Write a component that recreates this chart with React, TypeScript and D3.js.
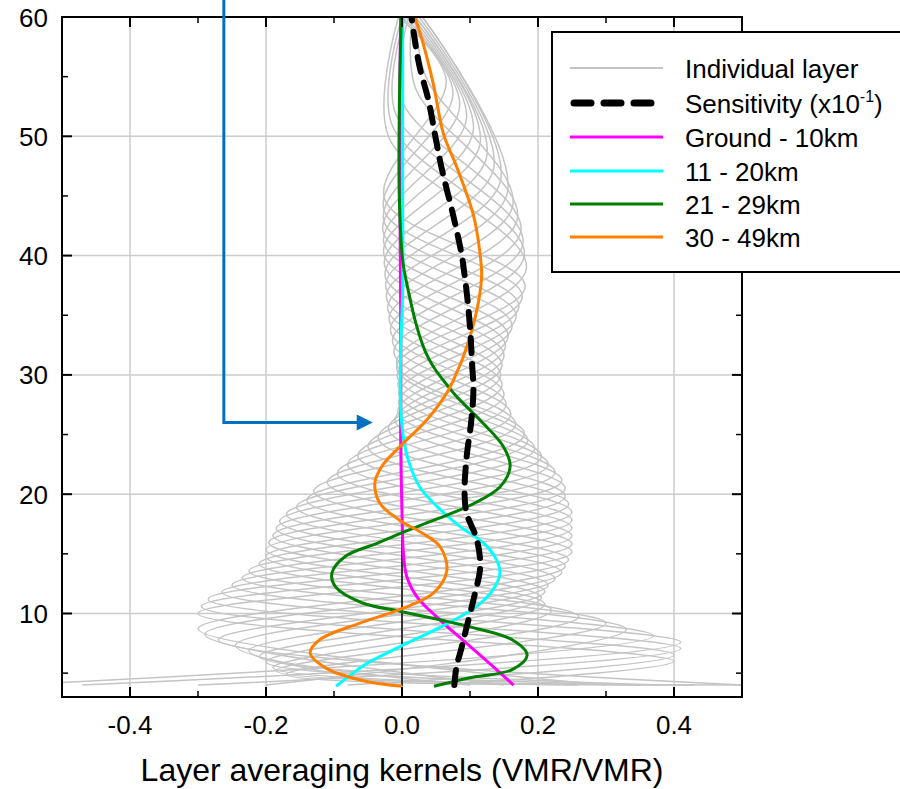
import React from 'react';
import * as d3 from 'd3';

// ---------- data (altitude km, kernel value) ----------
const X_TICKS = [-0.4, -0.2, 0.0, 0.2, 0.4];
const X_TICK_LABELS = ['-0.4', '-0.2', '0.0', '0.2', '0.4'];
const X_MINOR = [-0.5, -0.3, -0.1, 0.1, 0.3, 0.5];
const Y_TICKS = [10, 20, 30, 40, 50, 60];
const Y_MINOR = [5, 15, 25, 35, 45, 55];
const GRID_X = [-0.4, -0.2, 0.0, 0.2, 0.4];
const GRID_Y = [10, 20, 30, 40, 50];

const GREY_LAYERS: [number, number][][] = [
  [[4, 0.05], [6.0, 0.40], [10.0, -0.30], [14.5, 0.245], [19.5, -0.14], [25.0, 0.18], [31.0, -0.008], [39.0, 0.183], [50, -0.02], [60, -0.005]],
  [[4, -0.08], [6.53, 0.40], [10.59, -0.295], [15.16, 0.25], [20.24, -0.13], [25.83, 0.167], [31.92, -0.012], [40.05, 0.18], [51, -0.015], [60, 0.0]],
  [[4, -0.30], [7.06, 0.41], [11.19, -0.285], [15.83, 0.25], [20.98, -0.11], [26.66, 0.16], [32.84, -0.014], [41.09, 0.178], [52, -0.01], [60, 0.005]],
  [[4, -0.47], [7.59, 0.41], [11.78, -0.265], [16.49, 0.25], [21.73, -0.095], [27.48, 0.153], [33.77, -0.017], [42.14, 0.175], [53, 0.0], [60, 0.01]],
  [[4, -0.58], [8.13, 0.37], [12.38, -0.25], [17.16, 0.25], [22.47, -0.08], [28.31, 0.15], [34.69, -0.019], [43.19, 0.17], [54, 0.02], [60, 0.015]],
  [[4, -0.2], [8.66, 0.33], [12.97, -0.235], [17.82, 0.25], [23.21, -0.065], [29.14, 0.147], [35.61, -0.021], [44.23, 0.163], [55, 0.035], [60, 0.02]],
  [[4, 0.43], [4.9, -0.17], [9.19, 0.30], [13.56, -0.225], [18.48, 0.25], [23.95, -0.05], [29.97, 0.145], [36.53, -0.023], [45.28, 0.155], [60, 0.03]],
  [[4, 0.55], [5.2, -0.185], [9.72, 0.26], [14.16, -0.21], [19.15, 0.245], [24.70, -0.035], [30.80, 0.147], [37.45, -0.024], [46.33, 0.145], [60, 0.03]],
  [[4, 0.26], [5.47, -0.19], [10.25, 0.22], [14.75, -0.20], [19.81, 0.24], [25.44, -0.02], [31.63, 0.15], [38.38, -0.025], [47.38, 0.135], [60, 0.025]],
  [[4, 0.35], [5.94, -0.20], [10.78, 0.21], [15.34, -0.20], [20.48, 0.24], [26.18, -0.01], [32.45, 0.152], [39.30, -0.026], [48.42, 0.125], [60, 0.02]],
  [[4, 0.38], [6.40, -0.21], [11.31, 0.205], [15.94, -0.196], [21.14, 0.235], [26.92, -0.006], [33.28, 0.156], [40.22, -0.027], [49.47, 0.115], [60, 0.02]],
  [[4, 0.1], [6.87, -0.225], [11.84, 0.21], [16.53, -0.19], [21.80, 0.225], [27.66, -0.005], [34.11, 0.162], [41.14, -0.027], [50.52, 0.105], [60, 0.015]],
  [[4, 0.0], [7.33, -0.245], [12.38, 0.215], [17.13, -0.185], [22.47, 0.215], [28.41, -0.005], [34.94, 0.168], [42.06, -0.028], [51.56, 0.095], [60, 0.01]],
  [[4, 0.5], [7.80, -0.27], [12.91, 0.225], [17.72, -0.18], [23.13, 0.205], [29.15, -0.006], [35.77, 0.172], [42.98, -0.027], [52.61, 0.085], [60, 0.005]],
  [[4, 0.15], [8.26, -0.29], [13.44, 0.235], [18.31, -0.17], [23.80, 0.195], [29.89, -0.007], [36.59, 0.177], [43.91, -0.027], [53.66, 0.075], [60, 0.0]],
  [[4, 0.3], [8.73, -0.30], [13.97, 0.24], [18.91, -0.155], [24.46, 0.185], [30.63, -0.008], [37.42, 0.181], [44.83, -0.026], [54.70, 0.065], [60, -0.005]],
];

const SENSITIVITY: [number, number][] = [
  [4.0, 0.077], [5.5, 0.080], [7, 0.087], [8.85, 0.095], [11.6, 0.107], [13.9, 0.115], [16.2, 0.110],
  [18.4, 0.095], [20.1, 0.092], [23.1, 0.095], [26.2, 0.102], [28.7, 0.105], [31, 0.103], [34, 0.100],
  [37, 0.095], [38.8, 0.091], [40, 0.088], [43.2, 0.076], [47.4, 0.058], [50, 0.049], [53, 0.039],
  [55.8, 0.026], [58, 0.019], [60, 0.014],
];

const GROUND_10: [number, number][] = [
  [4.0, 0.164], [5.3, 0.139], [7.5, 0.095], [9.45, 0.056], [11.4, 0.022], [13.1, 0.007], [15.1, 0.002],
  [18.4, 0.0], [25, -0.002], [35, -0.002], [45, -0.003], [55, -0.003], [60, -0.002],
];

const L11_20: [number, number][] = [
  [3.9, -0.097], [5.0, -0.072], [5.8, -0.052], [7.3, 0.0], [8.9, 0.058], [10.6, 0.11], [12, 0.134],
  [13.4, 0.144], [14.5, 0.139], [15.9, 0.12], [17.3, 0.085], [19, 0.051], [20.6, 0.026], [22.9, 0.009],
  [24.8, 0.002], [27.3, -0.002], [32, -0.002], [37, 0.001], [45, 0.001], [52, 0.001], [60, 0.001],
];

const L21_29: [number, number][] = [
  [3.9, 0.047], [4.6, 0.098], [5.3, 0.162], [6.5, 0.184], [7.8, 0.162], [8.9, 0.098], [10.15, 0.0],
  [10.9, -0.059], [12.25, -0.098], [13.4, -0.103], [14.8, -0.083], [15.9, -0.036], [16.7, -0.003],
  [17.8, 0.046], [19.2, 0.105], [20.6, 0.144], [22.3, 0.159], [24.0, 0.149], [26.2, 0.115], [28.2, 0.080],
  [29.6, 0.060], [30.7, 0.046], [32, 0.034], [34, 0.022], [37.4, 0.008], [39.6, 0.001], [45, -0.004],
  [52, -0.004], [60, -0.001],
];

const L30_49: [number, number][] = [
  [3.9, 0.0], [4.3, -0.052], [5.4, -0.111], [6.7, -0.135], [7.8, -0.121], [9.2, -0.062], [10.4, 0.0],
  [11.7, 0.046], [13.6, 0.066], [15.6, 0.056], [16.7, 0.031], [17.8, -0.003], [19.2, -0.032], [20.9, -0.040],
  [22.3, -0.030], [24.0, -0.003], [26.2, 0.036], [28.7, 0.068], [30.4, 0.082], [31.5, 0.090], [34.9, 0.108],
  [38.2, 0.117], [40.5, 0.114], [43.4, 0.105], [47.5, 0.080], [50.2, 0.061], [54.4, 0.046], [57.8, 0.031], [60, 0.019],
];

const ZERO_LINE: [number, number][] = [[3.9, 0], [17, 0]];

const LEGEND_LABELS = ['Individual layer', 'Sensitivity (x10', 'Ground - 10km', '11 - 20km', '21 - 29km', '30 - 49km'];
const COLORS = {
  grey: '#c4c4c4',
  sens: '#000000',
  ground: '#ff00ff',
  l11: '#00ffff',
  l21: '#008000',
  l30: '#ff8000',
  arrow: '#0070c0',
};

const FONT = '"Liberation Sans", Arial, sans-serif';

export default function App() {
  const W = 900, H = 789;
  const left = 62, right = 742, top = 17, bottom = 697;
  const x = d3.scaleLinear().domain([-0.5, 0.5]).range([left, right]);
  const y = d3.scaleLinear().domain([3, 60]).range([bottom, top]);

  const line = d3
    .line<[number, number]>()
    .x((d) => x(d[1]))
    .y((d) => y(d[0]))
    .curve(d3.curveCatmullRom.alpha(0.5));
  const straight = d3
    .line<[number, number]>()
    .x((d) => x(d[1]))
    .y((d) => y(d[0]));

  const majorLen = 10, minorLen = 6;

  // annotation arrow (data coordinates)
  const arrowX = x(-0.262);
  const arrowTurnY = y(26.0);
  const arrowTipX = x(-0.043);

  const legendX = 552, legendY = 32;
  const rowYs = [68, 103, 137, 171, 204, 237];
  const sampleX0 = 570, sampleX1 = 663, textX = 685;

  return (
    <svg
      width={W}
      height={H}
      style={{ position: 'absolute', left: 0, top: 0, background: '#fff' }}
      fontFamily={FONT}
    >
      <rect x={0} y={0} width={W} height={H} fill="#fff" />
      <defs>
        <clipPath id="plotclip">
          <rect x={left} y={top} width={right - left} height={bottom - top} />
        </clipPath>
      </defs>

      {/* grid */}
      {GRID_X.map((v) => (
        <line key={'gx' + v} x1={x(v)} x2={x(v)} y1={top} y2={bottom} stroke="#cccccc" strokeWidth={1.5} />
      ))}
      {GRID_Y.map((v) => (
        <line key={'gy' + v} x1={left} x2={right} y1={y(v)} y2={y(v)} stroke="#cccccc" strokeWidth={1.5} />
      ))}

      <g clipPath="url(#plotclip)" fill="none">
        {GREY_LAYERS.map((d, i) => (
          <path key={'g' + i} d={line(d) || ''} stroke={COLORS.grey} strokeWidth={1.5} />
        ))}
        <path d={straight(ZERO_LINE) || ''} stroke="#000" strokeWidth={1.5} />
        <path d={line(GROUND_10) || ''} stroke={COLORS.ground} strokeWidth={3} />
        <path d={line(L11_20) || ''} stroke={COLORS.l11} strokeWidth={3} />
        <path d={line(L21_29) || ''} stroke={COLORS.l21} strokeWidth={3} />
        <path d={line(L30_49) || ''} stroke={COLORS.l30} strokeWidth={3} />
        <path
          d={line(SENSITIVITY) || ''}
          stroke={COLORS.sens}
          strokeWidth={6}
          strokeDasharray="15 11"
          strokeLinecap="round"
        />
      </g>

      {/* frame */}
      <rect x={left} y={top} width={right - left} height={bottom - top} fill="none" stroke="#000" strokeWidth={2} />

      {/* ticks */}
      {X_TICKS.map((v) => (
        <g key={'xt' + v}>
          <line x1={x(v)} x2={x(v)} y1={bottom} y2={bottom - majorLen} stroke="#000" strokeWidth={2} />
          <line x1={x(v)} x2={x(v)} y1={top} y2={top + majorLen} stroke="#000" strokeWidth={2} />
        </g>
      ))}
      {X_MINOR.map((v) => (
        <g key={'xm' + v}>
          <line x1={x(v)} x2={x(v)} y1={bottom} y2={bottom - minorLen} stroke="#000" strokeWidth={1.5} />
          <line x1={x(v)} x2={x(v)} y1={top} y2={top + minorLen} stroke="#000" strokeWidth={1.5} />
        </g>
      ))}
      {Y_TICKS.map((v) => (
        <g key={'yt' + v}>
          <line x1={left} x2={left + majorLen} y1={y(v)} y2={y(v)} stroke="#000" strokeWidth={2} />
          <line x1={right} x2={right - majorLen} y1={y(v)} y2={y(v)} stroke="#000" strokeWidth={2} />
        </g>
      ))}
      {Y_MINOR.map((v) => (
        <g key={'ym' + v}>
          <line x1={left} x2={left + minorLen} y1={y(v)} y2={y(v)} stroke="#000" strokeWidth={1.5} />
          <line x1={right} x2={right - minorLen} y1={y(v)} y2={y(v)} stroke="#000" strokeWidth={1.5} />
        </g>
      ))}

      {/* tick labels */}
      {X_TICKS.map((v, i) => (
        <text key={'xl' + v} x={x(v)} y={734} textAnchor="middle" fontSize={26} fill="#000">
          {X_TICK_LABELS[i]}
        </text>
      ))}
      {Y_TICKS.map((v) => (
        <text key={'yl' + v} x={48} y={y(v) + 9.5} textAnchor="end" fontSize={26} fill="#000">
          {String(v)}
        </text>
      ))}

      {/* axis title */}
      <text x={(left + right) / 2} y={781} textAnchor="middle" fontSize={32} fill="#000">
        Layer averaging kernels (VMR/VMR)
      </text>

      {/* arrow annotation */}
      <path
        d={`M${arrowX},0 V${arrowTurnY} H${arrowTipX - 12}`}
        fill="none"
        stroke={COLORS.arrow}
        strokeWidth={3}
      />
      <polygon
        points={`${arrowTipX - 16},${arrowTurnY - 8} ${arrowTipX},${arrowTurnY} ${arrowTipX - 16},${arrowTurnY + 8}`}
        fill={COLORS.arrow}
      />

      {/* legend */}
      <rect x={legendX} y={legendY} width={370} height={240} fill="#fff" stroke="#000" strokeWidth={2} />
      <line x1={sampleX0} x2={sampleX1} y1={rowYs[0]} y2={rowYs[0]} stroke={COLORS.grey} strokeWidth={2} />
      <line
        x1={sampleX0 + 4}
        x2={sampleX1}
        y1={rowYs[1]}
        y2={rowYs[1]}
        stroke={COLORS.sens}
        strokeWidth={7}
        strokeDasharray="17 13"
        strokeLinecap="round"
      />
      <line x1={sampleX0} x2={sampleX1} y1={rowYs[2]} y2={rowYs[2]} stroke={COLORS.ground} strokeWidth={3} />
      <line x1={sampleX0} x2={sampleX1} y1={rowYs[3]} y2={rowYs[3]} stroke={COLORS.l11} strokeWidth={3} />
      <line x1={sampleX0} x2={sampleX1} y1={rowYs[4]} y2={rowYs[4]} stroke={COLORS.l21} strokeWidth={3} />
      <line x1={sampleX0} x2={sampleX1} y1={rowYs[5]} y2={rowYs[5]} stroke={COLORS.l30} strokeWidth={3} />
      {LEGEND_LABELS.map((t, i) =>
        i === 1 ? (
          <text key={'lg' + i} x={textX} y={rowYs[i] + 10} fontSize={26} fill="#000">
            {t}
            <tspan fontSize={16} dy={-11}>-1</tspan>
            <tspan dy={11}>)</tspan>
          </text>
        ) : (
          <text key={'lg' + i} x={textX} y={rowYs[i] + 10} fontSize={26} fill="#000">
            {t}
          </text>
        )
      )}
    </svg>
  );
}
